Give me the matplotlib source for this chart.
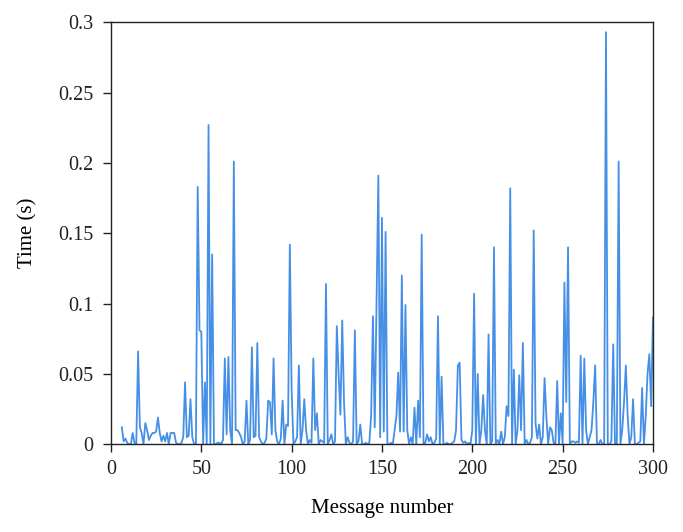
import numpy as np
import matplotlib
matplotlib.use("Agg")
import matplotlib.pyplot as plt
from matplotlib.ticker import FuncFormatter, MultipleLocator

plt.rcParams['font.family'] = ['Liberation Serif', 'DejaVu Serif']

# message numbers 6..300
first_msg = 6
times = [
    # 6-15
    0.012, 0.002, 0.004, 0.001, 0.000, 0.000, 0.008, 0.001, 0.000, 0.066,
    # 16-25
    0.012, 0.008, 0.000, 0.015, 0.010, 0.003, 0.006, 0.008, 0.008, 0.009,
    # 26-35
    0.019, 0.008, 0.002, 0.006, 0.002, 0.008, 0.000, 0.008, 0.008, 0.008,
    # 36-45
    0.001, 0.000, 0.000, 0.001, 0.005, 0.044, 0.005, 0.006, 0.032, 0.005,
    # 46-55
    0.000, 0.000, 0.183, 0.081, 0.080, 0.000, 0.044, 0.000, 0.227, 0.000,
    # 56-65
    0.135, 0.000, 0.000, 0.001, 0.001, 0.000, 0.003, 0.061, 0.007, 0.062,
    # 66-75
    0.010, 0.000, 0.201, 0.010, 0.010, 0.008, 0.005, 0.000, 0.002, 0.031,
    # 76-85
    0.000, 0.003, 0.069, 0.005, 0.006, 0.072, 0.005, 0.002, 0.000, 0.001,
    # 86-95
    0.004, 0.031, 0.030, 0.007, 0.061, 0.010, 0.002, 0.000, 0.004, 0.031,
    # 96-105
    0.000, 0.014, 0.013, 0.142, 0.038, 0.000, 0.002, 0.005, 0.056, 0.000,
    # 106-115
    0.010, 0.032, 0.010, 0.000, 0.003, 0.001, 0.061, 0.010, 0.022, 0.000,
    # 116-125
    0.003, 0.002, 0.001, 0.114, 0.000, 0.003, 0.007, 0.000, 0.002, 0.084,
    # 126-135
    0.050, 0.021, 0.088, 0.030, 0.000, 0.005, 0.001, 0.000, 0.002, 0.081,
    # 136-145
    0.000, 0.002, 0.014, 0.000, 0.000, 0.001, 0.000, 0.001, 0.020, 0.091,
    # 146-155
    0.012, 0.100, 0.191, 0.005, 0.161, 0.009, 0.151, 0.000, 0.000, 0.001,
    # 156-165
    0.000, 0.010, 0.020, 0.051, 0.009, 0.120, 0.009, 0.099, 0.010, 0.000,
    # 166-175
    0.005, 0.000, 0.026, 0.000, 0.031, 0.005, 0.149, 0.000, 0.001, 0.007,
    # 176-185
    0.002, 0.005, 0.000, 0.001, 0.004, 0.091, 0.000, 0.048, 0.000, 0.000,
    # 186-195
    0.001, 0.000, 0.000, 0.001, 0.002, 0.010, 0.056, 0.058, 0.003, 0.001,
    # 196-205
    0.002, 0.000, 0.001, 0.000, 0.010, 0.107, 0.000, 0.050, 0.000, 0.010,
    # 206-215
    0.035, 0.010, 0.000, 0.078, 0.000, 0.002, 0.140, 0.000, 0.003, 0.000,
    # 216-225
    0.009, 0.000, 0.005, 0.027, 0.020, 0.182, 0.000, 0.053, 0.000, 0.010,
    # 226-235
    0.049, 0.010, 0.072, 0.000, 0.003, 0.000, 0.001, 0.005, 0.152, 0.015,
    # 236-245
    0.004, 0.014, 0.000, 0.005, 0.047, 0.020, 0.000, 0.012, 0.010, 0.001,
    # 246-255
    0.000, 0.045, 0.000, 0.022, 0.000, 0.115, 0.030, 0.140, 0.000, 0.002,
    # 256-265
    0.002, 0.001, 0.002, 0.001, 0.063, 0.000, 0.061, 0.010, 0.000, 0.005,
    # 266-275
    0.010, 0.030, 0.056, 0.000, 0.000, 0.003, 0.000, 0.000, 0.293, 0.000,
    # 276-285
    0.000, 0.002, 0.071, 0.000, 0.000, 0.201, 0.000, 0.010, 0.030, 0.056,
    # 286-295
    0.020, 0.000, 0.005, 0.032, 0.000, 0.000, 0.001, 0.002, 0.040, 0.000,
    # 296-300
    0.020, 0.050, 0.064, 0.027, 0.090,
]
msgs = np.arange(first_msg, first_msg + len(times))

fig = plt.figure(figsize=(6.83, 5.32), dpi=100)
ax = fig.add_axes([0.1625, 0.165, 0.7935, 0.793])

ax.plot(msgs, times, color='#4590e6', linewidth=1.3)

ax.set_xlim(0, 300)
ax.set_ylim(0, 0.3)
ax.xaxis.set_major_locator(MultipleLocator(50))
ax.yaxis.set_major_locator(MultipleLocator(0.05))
ax.yaxis.set_major_formatter(FuncFormatter(lambda v, p: f"{v:g}"))

ax.tick_params(direction='out', length=5.5, width=1, labelsize=14.5,
               colors='#222222', pad=6)
ax.tick_params(axis='y', pad=7)
for s in ax.spines.values():
    s.set_linewidth(1.0)
    s.set_color('#222222')

ax.set_xlabel("Message number", fontsize=15, labelpad=14)
ax.set_ylabel("Time (s)", fontsize=15, labelpad=15)

fig.savefig("out.png", dpi=100)
